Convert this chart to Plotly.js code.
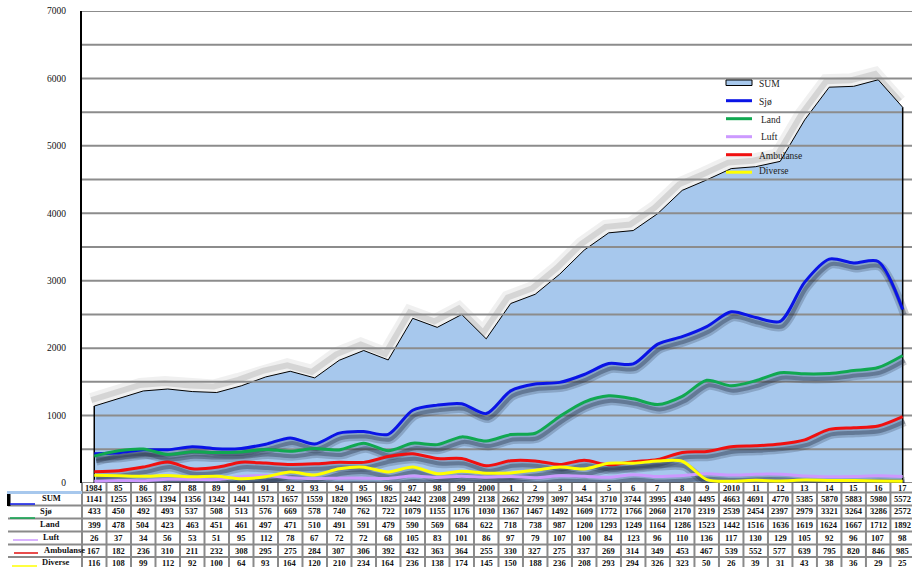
<!DOCTYPE html>
<html>
<head>
<meta charset="utf-8">
<script src="https://cdn.plot.ly/plotly-3.0.1.min.js"></script>
<style>html,body{margin:0;padding:0;background:#fff;}#chart{width:912px;height:567px;}</style>
</head>
<body>
<div id="chart"></div>
<script>
const years = [1984,1985,1986,1987,1988,1989,1990,1991,1992,1993,1994,1995,1996,1997,1998,1999,2000,2001,2002,2003,2004,2005,2006,2007,2008,2009,2010,2011,2012,2013,2014,2015,2016,2017];
const yearLabels = ['1984','85','86','87','88','89','90','91','92','93','94','95','96','97','98','99','2000','1','2','3','4','5','6','7','8','9','2010','11','12','13','14','15','16','17'];
const sumVals = [1141,1255,1365,1394,1356,1342,1441,1573,1657,1559,1820,1965,1825,2442,2308,2499,2138,2662,2799,3097,3454,3710,3744,3995,4340,4495,4663,4691,4770,5385,5870,5883,5980,5572];
const sjoVals = [433,450,492,493,537,508,513,576,669,578,740,762,722,1079,1155,1176,1030,1367,1467,1492,1609,1772,1766,2060,2170,2319,2539,2454,2397,2979,3321,3264,3286,2572];
const landVals = [399,478,504,423,463,451,461,497,471,510,491,591,479,590,569,684,622,718,738,987,1200,1293,1249,1164,1286,1523,1442,1516,1636,1619,1624,1667,1712,1892];
const luftVals = [26,37,34,56,53,51,95,112,78,67,72,72,68,105,83,101,86,97,79,107,100,84,123,96,110,136,117,130,129,105,92,96,107,98];
const ambVals = [167,182,236,310,211,232,308,295,275,284,307,306,392,432,363,364,255,330,327,275,337,269,314,349,453,467,539,552,577,639,795,820,846,985];
const divVals = [116,108,99,112,92,100,64,93,164,120,210,234,164,236,138,174,145,150,188,236,208,293,294,326,323,50,26,39,31,43,38,36,29,25];
const seriesNames = ['SUM','Sjø','Land','Luft','Ambulanse','Diverse'];
const lineColors = {'Sjø':'#0a14e6','Land':'#10a850','Luft':'#cc99ff','Ambulanse':'#f01010','Diverse':'#ffff00'};
const yTicks = [0,1000,2000,3000,4000,5000,6000,7000];
const gridStep = 500;

// layout geometry
const W = 912, H = 567, mL = 82, mT = 11, mB = 84;
const plotW = W - mL, plotH = H - mT - mB;
const r0 = 1983.5, r1 = 2017.38;
const yMax = 7000;
const unitPerPx = yMax / plotH;
const py2paper = py => (H - mB - py) / plotH;
const px2paper = px => (px - mL) / plotW;
const v2paperX = v => (v - r0) / (r1 - r0);

const serif = 'Liberation Serif, Times New Roman, serif';
const lineSeries = [
  ['Sjø', sjoVals], ['Land', landVals], ['Luft', luftVals], ['Ambulanse', ambVals], ['Diverse', divVals]
];
const sumFill = '#a7c8ed';

const traces = [];
// SUM area (x2y2)
traces.push({x: years, y: sumVals, type:'scatter', mode:'lines', name:'SUM', fill:'tozeroy',
  fillcolor: sumFill, line:{color:'#000', width:1}, xaxis:'x2', yaxis:'y2'});
// gridlines drawn over the area (x2y2)
const gx = [], gy = [];
for (let v = 0; v <= yMax; v += gridStep) { gx.push(r0, r1, null); gy.push(v, v, null); }
traces.push({x: gx, y: gy, type:'scatter', mode:'lines', line:{color:'#8c8c8c', width:2},
  hoverinfo:'skip', xaxis:'x2', yaxis:'y2'});
// vertical edges of SUM area
const last = years.length - 1;
traces.push({x:[years[0], years[0], null, years[last], years[last]], y:[0, sumVals[0], null, 0, sumVals[last]],
  type:'scatter', mode:'lines', line:{color:'#000', width:1.5}, hoverinfo:'skip', xaxis:'x2', yaxis:'y2'});
// lines (x4y4)
lineSeries.forEach(([n, v]) => {
  traces.push({x: years, y: v, type:'scatter', mode:'lines', name:n,
    line:{color: lineColors[n], width:3, shape:'spline', smoothing:0.8}, xaxis:'x4', yaxis:'y4'});
});
// line shadows (x3y3)
lineSeries.forEach(([n, v]) => {
  traces.push({x: years, y: v, type:'scatter', mode:'lines', hoverinfo:'skip',
    line:{color:'rgba(30,40,60,0.22)', width:9, shape:'spline', smoothing:0.8}, xaxis:'x3', yaxis:'y3'});
  traces.push({x: years, y: v, type:'scatter', mode:'lines', hoverinfo:'skip',
    line:{color:'rgba(30,40,60,0.35)', width:4, shape:'spline', smoothing:0.8}, xaxis:'x3', yaxis:'y3'});
});
// SUM shadow (xy, base)
traces.push({x: years, y: sumVals, type:'scatter', mode:'lines', hoverinfo:'skip',
  line:{color:'rgba(0,0,0,0.06)', width:14}, xaxis:'x', yaxis:'y'});
traces.push({x: years, y: sumVals, type:'scatter', mode:'lines', hoverinfo:'skip',
  line:{color:'rgba(0,0,0,0.11)', width:6}, xaxis:'x', yaxis:'y'});

const hidden = {visible:false, fixedrange:true};
const shX = 2 / (plotW / (r1 - r0));
const sumShX = 3 / (plotW / (r1 - r0));
const shY = 5 * unitPerPx, sumShY = 6 * unitPerPx;

// Table
const annotations = [];
const shapes = [];
const gray = '#8a8a8a';
const rowLines = [492.5, 505.5, 518.5, 531.5, 544.5, 557];
const textY = {header:487.5, 'SUM':499, 'Sjø':511.5, 'Land':524.5, 'Luft':537.5, 'Ambulanse':550.5, 'Diverse':563};
const rowData = {'SUM':sumVals, 'Sjø':sjoVals, 'Land':landVals, 'Luft':luftVals, 'Ambulanse':ambVals, 'Diverse':divVals};
const cellFont = {family: serif, size: 8.5, color:'#111'};
years.forEach((yr, i) => {
  annotations.push({x: yr, xref:'x2', y: py2paper(textY.header), yref:'paper', text:'<b>'+yearLabels[i]+'</b>',
    showarrow:false, font: cellFont, xanchor:'center', yanchor:'middle'});
  seriesNames.forEach(n => {
    annotations.push({x: yr, xref:'x2', y: py2paper(textY[n]), yref:'paper', text:'<b>'+rowData[n][i]+'</b>',
      showarrow:false, font: cellFont, xanchor:'center', yanchor:'middle'});
  });
});
// row labels
const labelX = {'SUM':40, 'Sjø':38, 'Land':38, 'Luft':41, 'Ambulanse':42, 'Diverse':40};
seriesNames.forEach(n => {
  annotations.push({x: px2paper(labelX[n]), xref:'paper', y: py2paper(textY[n] - 1), yref:'paper', text:'<b>'+n+'</b>',
    showarrow:false, font:{family: serif, size: 8.5, color:'#111'}, xanchor:'left', yanchor:'middle'});
});
// horizontal table lines
rowLines.forEach((ly, k) => {
  shapes.push({type:'line', xref:'paper', yref:'paper', x0: 0, x1: 1, y0: py2paper(ly), y1: py2paper(ly),
    line:{color: gray, width: 2}});
  if (k > 0) shapes.push({type:'line', xref:'paper', yref:'paper', x0: px2paper(8), x1: 0, y0: py2paper(ly), y1: py2paper(ly),
    line:{color: gray, width: 2}});
});
// vertical column lines
for (let i = 0; i <= years.length; i++) {
  const xv = v2paperX(years[0] - 0.5 + i);
  shapes.push({type:'line', xref:'paper', yref:'paper', x0: xv, x1: xv, y0: py2paper(483), y1: py2paper(H),
    line:{color: gray, width: 2}});
}
// legend keys in table label column
shapes.push({type:'line', xref:'paper', yref:'paper', x0: px2paper(7), x1: px2paper(82), y0: py2paper(492.5), y1: py2paper(492.5),
  line:{color: sumFill, width:3}});
shapes.push({type:'rect', xref:'paper', yref:'paper', x0: px2paper(7), x1: px2paper(10.5), y0: py2paper(494), y1: py2paper(506),
  fillcolor:'#000', line:{width:0}});
const keyPos = {'Sjø':[10,35,504], 'Land':[10,35,518], 'Luft':[13,38,540], 'Ambulanse':[14,38,553], 'Diverse':[12,37,566]};
Object.keys(keyPos).forEach(n => {
  const [a, b, ky] = keyPos[n];
  shapes.push({type:'line', xref:'paper', yref:'paper', x0: px2paper(a), x1: px2paper(b), y0: py2paper(ky), y1: py2paper(ky),
    line:{color: n === 'Ambulanse' ? '#e01010' : lineColors[n], width:1.5}});
});

// chart legend (drawn as keys + labels)
const legKeyX0 = 726, legKeyX1 = 752;
const legItems = [
  ['SUM', 82.5, 757, 84], ['Sjø', 100.7, 757, 102.5], ['Land', 118.7, 759, 120],
  ['Luft', 136.7, 759, 137], ['Ambulanse', 154.7, 757, 156], ['Diverse', 172.2, 757, 171]
];
legItems.forEach(([n, ky, tx, ty]) => {
  if (n === 'SUM') {
    shapes.push({type:'rect', xref:'paper', yref:'paper', x0: px2paper(legKeyX0), x1: px2paper(legKeyX1),
      y0: py2paper(80), y1: py2paper(85.5), fillcolor: sumFill, line:{color:'#000', width:1}, layer:'above'});
  } else {
    shapes.push({type:'line', xref:'paper', yref:'paper', x0: px2paper(legKeyX0), x1: px2paper(legKeyX1),
      y0: py2paper(ky), y1: py2paper(ky), line:{color: lineColors[n], width:3}, layer:'above'});
  }
  annotations.push({x: px2paper(tx), xref:'paper', y: py2paper(ty), yref:'paper', text: n, showarrow:false,
    font:{family: serif, size: 9.5, color:'#222'}, xanchor:'left', yanchor:'middle'});
});

const layout = {
  width: W, height: H,
  margin: {l: mL, r: 0, t: mT, b: mB, pad: 0},
  paper_bgcolor:'#fff', plot_bgcolor:'#fff',
  showlegend: false,
  xaxis: Object.assign({range:[r0 + sumShX, r1 + sumShX]}, hidden),
  yaxis: Object.assign({range:[-sumShY, yMax - sumShY]}, hidden),
  xaxis2: {overlaying:'x', range:[r0, r1], visible:false, fixedrange:true},
  yaxis2: {overlaying:'y', range:[0, yMax], showgrid:false, zeroline:false, showline:true, linecolor:'#000', linewidth:2,
    tickvals: yTicks, ticktext: yTicks.map(String), ticks:'', ticklabelstandoff: 12,
    tickfont:{family: serif, size: 9.5, color:'#111'}, fixedrange:true},
  xaxis3: Object.assign({overlaying:'x', range:[r0 - shX, r1 - shX]}, hidden),
  yaxis3: Object.assign({overlaying:'y', range:[shY, yMax + shY]}, hidden),
  xaxis4: Object.assign({overlaying:'x', range:[r0, r1]}, hidden),
  yaxis4: Object.assign({overlaying:'y', range:[0, yMax]}, hidden),
  annotations: annotations,
  shapes: shapes
};
Plotly.newPlot('chart', traces, layout, {displayModeBar:false, staticPlot:true});
</script>
</body>
</html>
